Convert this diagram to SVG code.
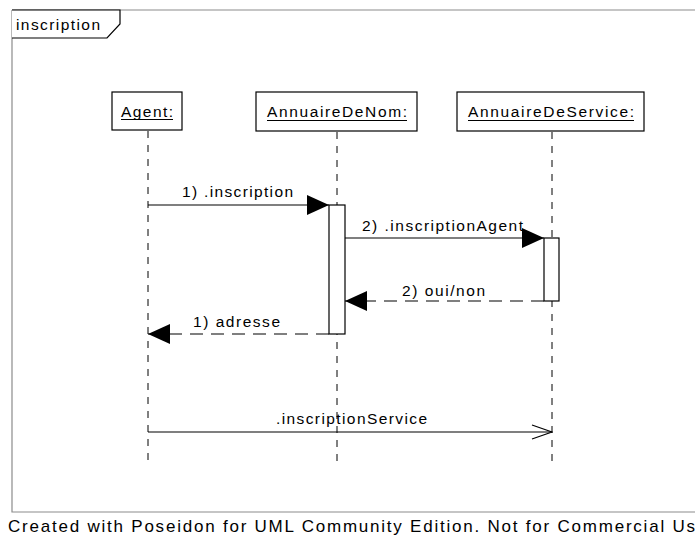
<svg xmlns="http://www.w3.org/2000/svg" width="695" height="539" viewBox="0 0 695 539">
  <style>
    text { font-family: "Liberation Sans", Arial, sans-serif; fill: #000; }
    .lbl { font-size: 15.5px; }
    .obj { fill: #fff; stroke: #000; stroke-width: 1.2; }
    .life { stroke: #000; stroke-width: 1; stroke-dasharray: 7 7; fill: none; }
    .act { fill: #fff; stroke: #000; stroke-width: 1.2; }
    .msg { stroke: #000; stroke-width: 1.2; fill: none; }
    .ret { stroke: #000; stroke-width: 1.2; fill: none; stroke-dasharray: 13 8; }
    .uline { stroke: #000; stroke-width: 1; }
  </style>
  <defs>
    <marker id="filled" markerWidth="22" markerHeight="20" refX="22" refY="10" orient="auto" markerUnits="userSpaceOnUse">
      <path d="M0,0 L22,10 L0,20 Z" fill="#000"/>
    </marker>
    <marker id="open" markerWidth="22" markerHeight="16" refX="21" refY="8" orient="auto" markerUnits="userSpaceOnUse">
      <path d="M1,1 L21,8 L1,15" fill="none" stroke="#000" stroke-width="1.2"/>
    </marker>
  </defs>

  <rect width="695" height="539" fill="#fff"/>

  <!-- frame -->
  <g id="frame">
    <path d="M12,10 L700,10 M12,10 L12,512 L700,512" fill="none" stroke="#8c8c8c" stroke-width="1.2"/>
    <path d="M12,10 L120,10 L120,24 L107,38 L12,38" fill="#fff" stroke="#000" stroke-width="1.2"/>
    <text class="lbl" x="16" y="30" textLength="84" lengthAdjust="spacing">inscription</text>
  </g>

  <!-- lifelines and objects -->
  <g id="agent">
    <line class="life" x1="148" y1="131" x2="148" y2="466"/>
    <rect class="obj" x="112" y="92" width="70" height="38"/>
    <text class="lbl" x="121" y="117" textLength="52" lengthAdjust="spacing">Agent:</text>
    <line class="uline" x1="121" y1="119.5" x2="173" y2="119.5"/>
  </g>

  <g id="annuaireDeNom">
    <line class="life" x1="337" y1="132" x2="337" y2="466"/>
    <rect class="obj" x="256" y="92" width="161" height="39"/>
    <text class="lbl" x="267" y="117" textLength="140" lengthAdjust="spacing">AnnuaireDeNom:</text>
    <line class="uline" x1="267" y1="120.5" x2="407" y2="120.5"/>
    <rect class="act" x="329" y="205" width="16" height="129"/>
  </g>

  <g id="annuaireDeService">
    <line class="life" x1="552" y1="132" x2="552" y2="466"/>
    <rect class="obj" x="457" y="92" width="187" height="39"/>
    <text class="lbl" x="468" y="117" textLength="166" lengthAdjust="spacing">AnnuaireDeService:</text>
    <line class="uline" x1="468" y1="120.5" x2="634" y2="120.5"/>
    <rect class="act" x="544" y="238" width="15" height="63"/>
  </g>

  <!-- messages -->
  <g id="connectors">
    <line class="msg" x1="148" y1="205" x2="329" y2="205" marker-end="url(#filled)"/>
    <text class="lbl" x="182" y="197" textLength="111" lengthAdjust="spacing">1) .inscription</text>

    <line class="msg" x1="345" y1="238" x2="544" y2="238" marker-end="url(#filled)"/>
    <text class="lbl" x="362" y="231" textLength="161" lengthAdjust="spacing">2) .inscriptionAgent</text>

    <line class="ret" x1="544" y1="301" x2="345" y2="301" marker-end="url(#filled)"/>
    <text class="lbl" x="402" y="296" textLength="83" lengthAdjust="spacing">2) oui/non</text>

    <line class="ret" x1="329" y1="334" x2="148" y2="334" marker-end="url(#filled)"/>
    <text class="lbl" x="193" y="327" textLength="87" lengthAdjust="spacing">1) adresse</text>

    <line class="msg" x1="148" y1="432" x2="552" y2="432" marker-end="url(#open)"/>
    <text class="lbl" x="276" y="424" textLength="151" lengthAdjust="spacing">.inscriptionService</text>
  </g>

  <text x="8" y="532" font-size="17" textLength="687" lengthAdjust="spacing">Created with Poseidon for UML Community Edition. Not for Commercial Us</text>
</svg>
